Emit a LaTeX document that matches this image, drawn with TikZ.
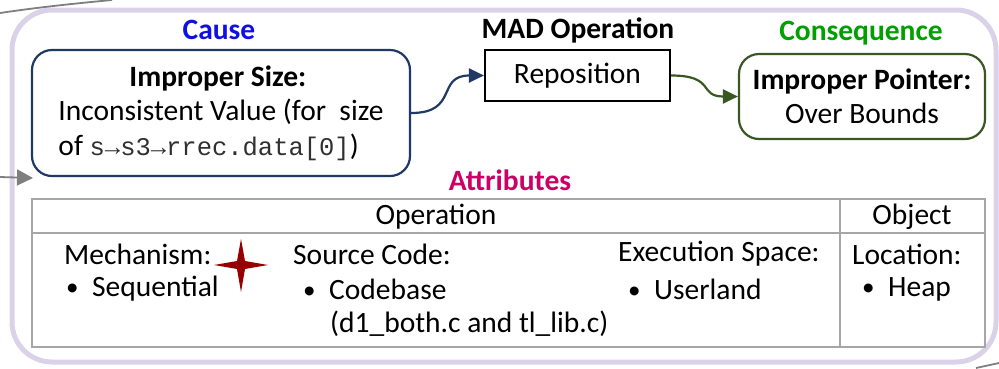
\documentclass[tikz,border=0pt]{standalone}
\usepackage{fontspec}
\setmainfont{Carlito}
\newfontfamily\monof{Liberation Mono}
\usetikzlibrary{arrows.meta}
\definecolor{lav}{HTML}{D9D2E9}
\definecolor{navy}{HTML}{1F3864}
\definecolor{dgreen}{HTML}{385723}
\definecolor{tgreen}{HTML}{00A000}
\definecolor{tblue}{HTML}{1010E6}
\definecolor{tmag}{HTML}{CC0066}
\definecolor{starred}{HTML}{960000}
\definecolor{tgray}{HTML}{A6A6A6}
\definecolor{agray}{HTML}{7F7F7F}
\definecolor{monogray}{HTML}{303030}
\newcommand{\bul}[1]{\makebox[26pt][l]{\raisebox{1pt}{\scalebox{0.85}{•}}}#1}
\tikzset{
  x=1pt, y=-1pt,
  every node/.style={font=\fontsize{29.5}{34.5}\selectfont, inner sep=0pt},
  title/.style={font=\fontsize{29.5}{34}\selectfont\bfseries},
  rbox/.style={draw, line width=2.2pt, rounded corners=20pt},
  txt/.style={anchor=west},
  conn/.style={line width=2.2pt, -{Triangle[length=15pt,width=14pt]}},
}
\begin{document}
\begin{tikzpicture}
\useasboundingbox (0,0) rectangle (999,368);
% outer frame
\draw[lav, line width=5pt, rounded corners=40pt] (12,10) rectangle (996,362);
% external gray connectors
\coordinate (tl1) at (0,13);
\coordinate (tl2) at (112,0);
\draw[agray, line width=1.8pt] (tl1) .. controls (40,7) and (80,3) .. (tl2);
\coordinate (la1) at (0,177);
\coordinate (la2) at (33,178);
\draw[agray, line width=1.8pt, -{Triangle[length=16pt,width=16pt]}] (la1) -- (la2);
\coordinate (br1) at (976,368);
\coordinate (br2) at (999,363);
\draw[agray, line width=1.8pt] (br1) -- (br2);

% titles
\node[title, text=tblue] (tcause) at (219,30) {Cause};
\node[title] (tmad) at (578,30) {MAD Operation};
\node[title, text=tgreen] (tcons) at (861,33) {Consequence};
\node[title, text=tmag] (tattr) at (510,180) {Attributes};

% boxes
\node[rbox, navy, text=black, align=left, minimum width=378pt, minimum height=126pt] (cause) at (221,113)
  {\hspace*{71pt}\textbf{Improper Size:}\\Inconsistent Value (for\ \ size\\of {\monof\fontsize{25.5}{34.5}\selectfont\color{monogray}s→s3→rrec.data[0]})};
\node[draw, line width=2.2pt, minimum width=185pt, minimum height=51pt] (repo) at (577.5,75.5) {Reposition};
\node[rbox, dgreen, text=black, align=center, minimum width=246pt, minimum height=85pt] (cons) at (862,96.5)
  {\textbf{Improper Pointer:}\\Over Bounds};

% connectors
\draw[conn, navy] (cause.east) .. controls +(48,0) and +(-48,0) .. (repo.west);
\draw[conn, dgreen] (repo.east) .. controls +(45,0) and +(-40,0) .. (cons.west);

% table
\draw[tgray, line width=2pt] (32,199) rectangle (985,347);
\draw[tgray, line width=2pt] (32,233) -- (985,233);
\draw[tgray, line width=2pt] (840,199) -- (840,347);
\node (hop) at (436,217) {Operation};
\node (hobj) at (912,217) {Object};

\node[txt] (mech) at (64,254) {Mechanism:};
\node[txt] (mech1) at (66,289) {\bul{Sequential}};
\node[txt] (src) at (293,254) {Source Code:};
\node[txt] (src1) at (303,289) {\bul{Codebase}};
\node[txt] (src2) at (330,324) {(d1\_both.c and tl\_lib.c)};
\node[txt] (exe) at (618,254) {Execution Space:};
\node[txt] (exe1) at (628,289) {\bul{Userland}};
\node[txt] (loc) at (852,254) {Location:};
\node[txt] (loc1) at (862,289) {\bul{Heap}};

% star
\fill[starred] (241,239) -- (245,261) -- (268,265) -- (245,269) -- (241,292)
  -- (237,269) -- (214,265) -- (237,261) -- cycle;
\end{tikzpicture}
\end{document}
